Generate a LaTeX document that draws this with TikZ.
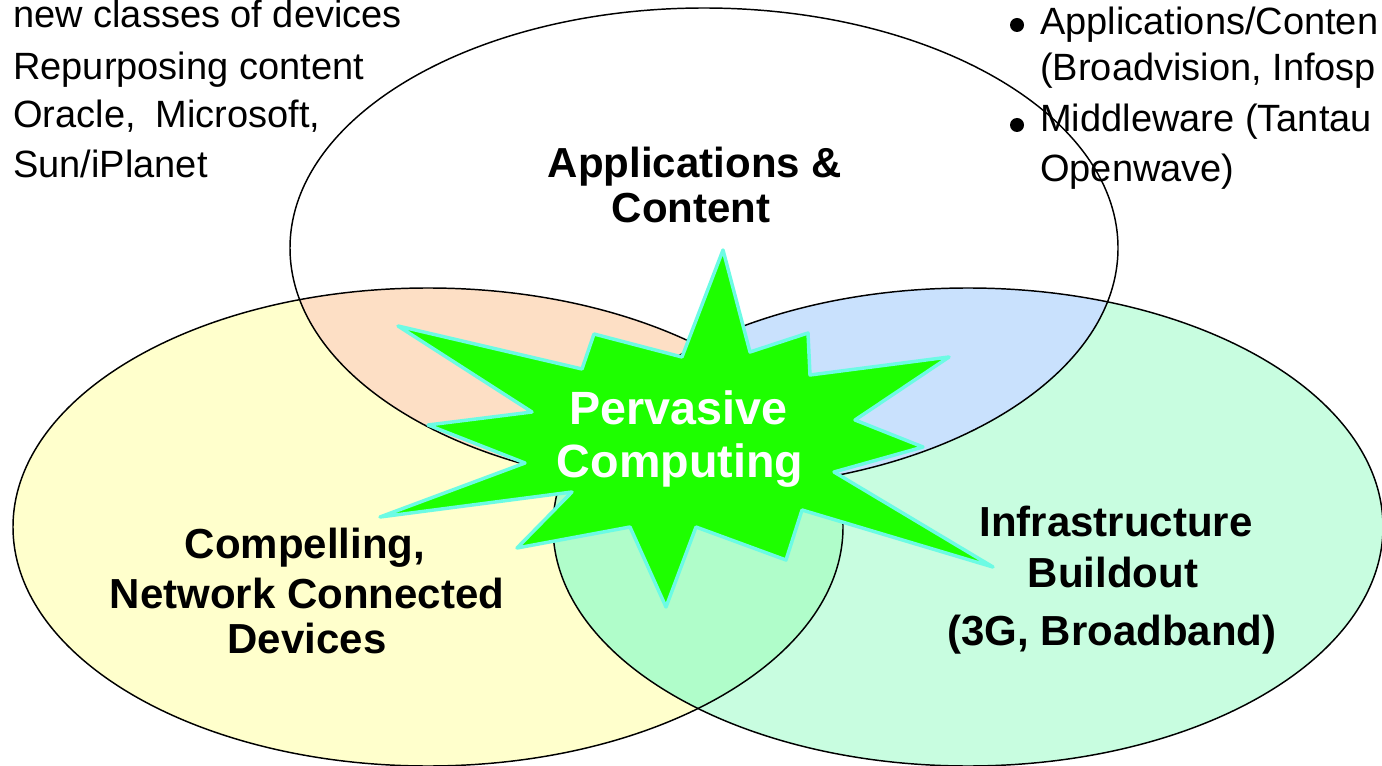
\documentclass[tikz,border=0pt]{standalone}
\usepackage{fontspec}
\setmainfont{Liberation Sans}
\definecolor{yel}{HTML}{FFFFCC}
\definecolor{grn}{HTML}{C8FDE0}
\definecolor{ygr}{HTML}{B0FDCA}
\definecolor{peach}{HTML}{FDDFC5}
\definecolor{blu}{HTML}{C9E1FD}
\definecolor{stargreen}{HTML}{1EFF00}
\definecolor{starcyan}{HTML}{6CFBE4}
\def\Tell{(704,248) ellipse [x radius=310.5pt, y radius=180pt]}
\def\Yell{(428,527) ellipse [x radius=311.25pt, y radius=179.25pt]}
\def\Gell{(968,527) ellipse [x radius=311.25pt, y radius=179.25pt]}
\begin{document}
\begin{tikzpicture}[x=0.75pt,y=-0.75pt,
  outline/.style={draw=black,line width=1.1pt},
  burst/.style={fill=stargreen,draw=starcyan,line width=2.6pt,line join=round},
  lbl/.style={font=\fontsize{31.5}{36}\bfseries\selectfont, inner sep=0pt, anchor=base},
  pc/.style={font=\fontsize{35}{40}\bfseries\selectfont, text=white, inner sep=0pt, anchor=base},
  side/.style={font=\fontsize{28.5}{32}\selectfont, inner sep=0pt, anchor=base west},
  dot/.style={circle, fill=black, inner sep=0pt, minimum size=10.5pt}]
\useasboundingbox (0,0) rectangle (1382,766);
\clip (0,0) rectangle (1382,766);
% base fills
\fill[yel] \Yell;
\fill[grn] \Gell;
\begin{scope}
  \clip \Yell;
  \fill[ygr] \Gell;
\end{scope}
\begin{scope}
  \clip \Tell;
  \fill[peach] \Yell;
  \fill[blu] \Gell;
\end{scope}
% outlines
\draw[outline] \Tell;
\draw[outline] \Yell;
\draw[outline] \Gell;
% burst
\draw[burst] (723,250) -- (750,352) -- (808,333) -- (810,375) -- (949,357)
  -- (855,420) -- (923,447) -- (834,472) -- (993,567) -- (802,510)
  -- (786,560) -- (696,527) -- (666,607) -- (630,527) -- (517,548)
  -- (572,492) -- (380,517) -- (525,463) -- (428,425) -- (532,412)
  -- (398,326) -- (582,369) -- (594,334) -- (682,357) -- cycle;
% labels
\node[lbl] (app1) at (695,178) {Applications \&};
\node[lbl] (app2) at (691,223) {Content};
\node[pc] (pc1) at (678,425) {Pervasive};
\node[pc] (pc2) at (680,478) {Computing};
\node[lbl] (dev1) at (305,558) {Compelling,};
\node[lbl] (dev2) at (307,608) {Network Connected};
\node[lbl] (dev3) at (307,653) {Devices};
\node[lbl] (inf1) at (1116,537) {Infrastructure};
\node[lbl] (inf2) at (1113,587) {Buildout};
\node[lbl] (inf3) at (1112,645) {(3G, Broadband)};
% side texts
\node[side] (l1) at (13,28) {new classes of devices};
\node[side] (l2) at (13,80) {Repurposing content};
\node[side] (l3) at (13,128) {Oracle,\hspace{7pt} Microsoft,};
\node[side] (l4) at (13,178) {Sun/iPlanet};
\node[dot] (b1) at (1017,25) {};
\node[dot] (b2) at (1017,125) {};
\node[side] (r1) at (1040,35) {Applications/Conten};
\node[side] (r2) at (1040,81) {(Broadvision, Infosp};
\node[side] (r3) at (1040,132) {Middleware (Tantau};
\node[side] (r4) at (1040,182) {Openwave)};
\end{tikzpicture}
\end{document}
